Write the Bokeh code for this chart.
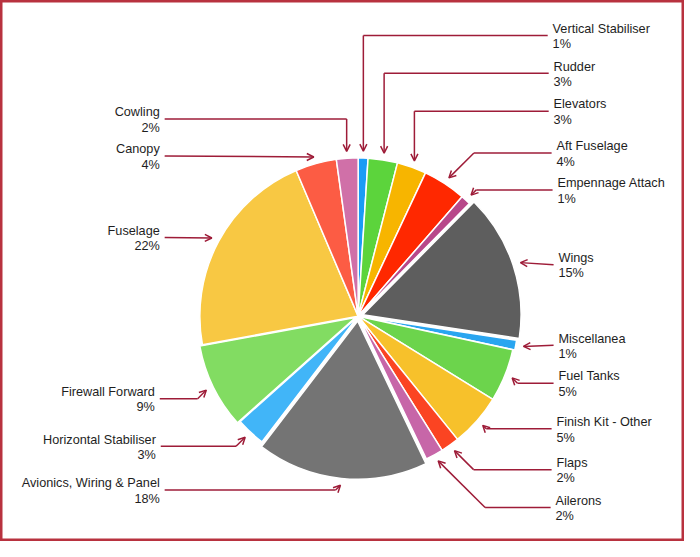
import math
from bokeh.plotting import figure
from bokeh.models import Range1d, ColumnDataSource, Arrow, OpenHead
from bokeh.core.properties import value
from bokeh.embed import file_html
from bokeh.resources import INLINE

# ---- data ----
parts = ["Vertical Stabiliser", "Rudder", "Elevators", "Aft Fuselage", "Empennage Attach",
         "Wings", "Miscellanea", "Fuel Tanks", "Finish Kit - Other", "Flaps", "Ailerons",
         "Avionics, Wiring & Panel", "Horizontal Stabiliser", "Firewall Forward", "Fuselage",
         "Canopy", "Cowling"]
shares = [1.0, 3.0, 3.0, 4.4, 1.0, 15.0, 1.0, 5.4, 5.4, 1.9, 1.8, 17.5, 3.0, 8.7, 21.5, 4.2, 2.2]

# ---- styles / layout ----
colors = ["#1a9cf5", "#5cd43c", "#f7b500", "#ff2800", "#b8488a", "#5e5e5e", "#29a5f0",
          "#6cd44c", "#f7c12b", "#fb4422", "#c766a8", "#747474", "#41b5f8", "#82dc62",
          "#f8c843", "#fc5c44", "#d070a8"]
explode = [0, 0, 0, 0, 0, 5, 2, 0, 0, 0, 0, 5, 0, 3, 0, 0, 0]
side = ["R"] * 11 + ["L"] * 6
line_y = [36, 75, 114, 157, 195, 272, 355, 394, 441, 483, 522, 504, 459, 410, 244, 160, 122]
label_x = [565, 566, 566, 569, 570, 571, 571, 571, 569, 569, 568, 163, 159, 158, 163, 163, 163]

W, H = 700, 557
CX, CY, R = 366, 325, 162
LEAD = "#9e1c38"

def Y(ry):
    return H - ry

p = figure(width=684, height=541, x_range=Range1d(0, W), y_range=Range1d(0, H),
           output_backend="svg", toolbar_location=None, min_border=0,
           x_axis_location=None, y_axis_location=None)
p.grid.visible = False
p.outline_line_color = "#b8323f"
p.outline_line_width = 4
p.background_fill_color = "white"
p.border_fill_color = "white"

total = sum(shares)
cum = 0.0
wx, wy, sa, ea = [], [], [], []
seg = dict(x0=[], y0=[], x1=[], y1=[])
arr = dict(xs=[], ys=[], xe=[], ye=[])
tx, ty, tt, ta = [], [], [], []
for i, v in enumerate(shares):
    a0 = cum / total * 2 * math.pi
    cum += v
    a1 = cum / total * 2 * math.pi
    mid = (a0 + a1) / 2
    d = explode[i]
    wx.append(CX + d * math.sin(mid))
    wy.append(Y(CY - d * math.cos(mid)))
    sa.append(math.pi / 2 - a0)
    ea.append(math.pi / 2 - a1)

    rt = R + 8 + d
    tipx = CX + rt * math.sin(mid)
    tipy = CY - rt * math.cos(mid)
    s = 1 if side[i] == "R" else -1
    startx = label_x[i] - 5 if side[i] == "R" else label_x[i] + 5
    ly = line_y[i]
    if math.cos(mid) > 0.9:
        ex, ey = tipx, ly
    else:
        ex, ey = tipx + s * abs(ly - tipy), ly
    if math.hypot(ex - tipx, ey - tipy) < 4:
        arr["xs"].append(startx); arr["ys"].append(Y(ly))
    else:
        seg["x0"].append(startx); seg["y0"].append(Y(ly))
        seg["x1"].append(ex); seg["y1"].append(Y(ey))
        arr["xs"].append(ex); arr["ys"].append(Y(ey))
    arr["xe"].append(tipx); arr["ye"].append(Y(tipy))

    pct = f"{int(v / total * 100 + 0.5)}%"
    al = "left" if side[i] == "R" else "right"
    tx += [label_x[i], label_x[i]]
    ty += [Y(ly - 7), Y(ly + 9)]
    tt += [parts[i], pct]
    ta += [al, al]

wsrc = ColumnDataSource(dict(x=wx, y=wy, sa=sa, ea=ea, c=colors))
p.wedge(x="x", y="y", radius=R, start_angle="sa", end_angle="ea", direction="clock",
        fill_color="c", line_color="white", line_width=1.5, source=wsrc)

p.segment(x0="x0", y0="y0", x1="x1", y1="y1", line_color=LEAD, line_width=1.5,
          source=ColumnDataSource(seg))
p.add_layout(Arrow(end=OpenHead(size=7, line_color=LEAD, line_width=1.5),
                   x_start="xs", y_start="ys", x_end="xe", y_end="ye",
                   line_color=LEAD, line_width=1.5, source=ColumnDataSource(arr)))

p.text(x="x", y="y", text="t", text_align="a", text_baseline="middle",
       text_font=value("Liberation Sans"), text_font_size="12.7px", text_color="#1e1e1e",
       source=ColumnDataSource(dict(x=tx, y=ty, t=tt, a=ta)))

open("out.html", "w").write(file_html(p, INLINE))
